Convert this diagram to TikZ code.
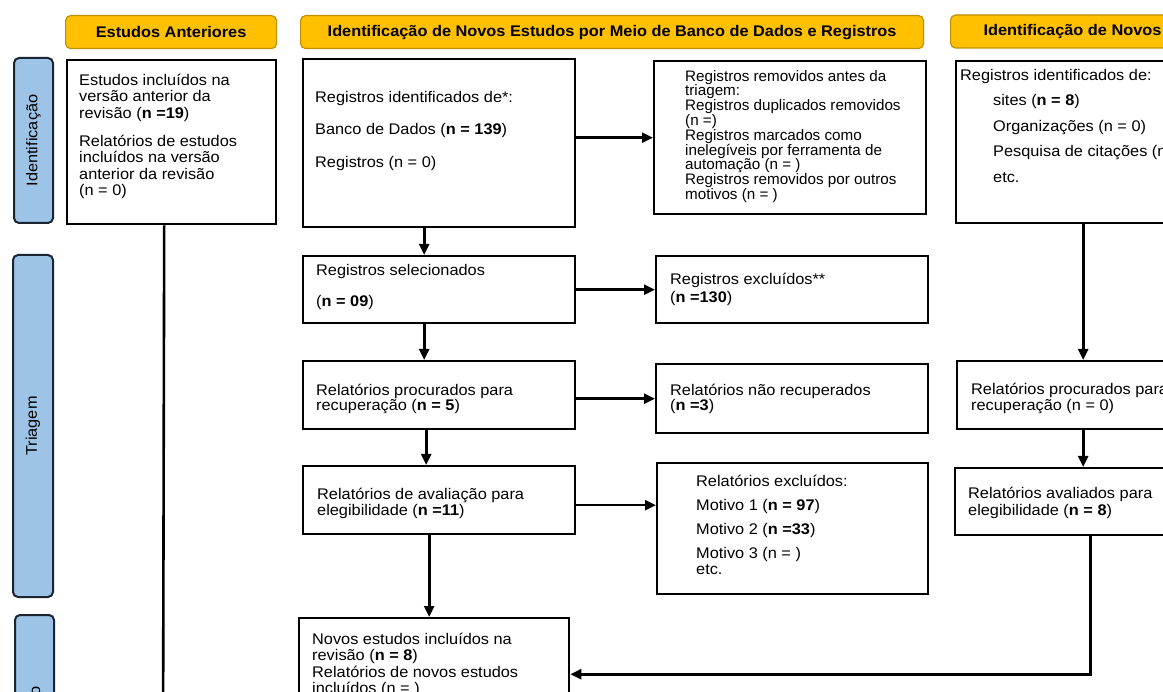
\documentclass[tikz,border=0pt]{standalone}
\usepackage{fontspec}
\setmainfont{Liberation Sans}[FakeStretch=1.06]
\newfontfamily\tightfont{Liberation Sans}
\usetikzlibrary{arrows.meta}
\definecolor{hdrfill}{HTML}{FFC000}
\definecolor{hdrline}{HTML}{C09000}
\definecolor{sidefill}{HTML}{9DC3E6}
\definecolor{sideline}{HTML}{1B2433}
\newcommand{\myfs}[1]{\fontsize{15.4}{#1}\selectfont}
\newcommand{\fl}{\rule{0pt}{13pt}}
\begin{document}
\begin{tikzpicture}[x=1pt,y=-1pt,
  box/.style={draw=black, line width=2.4pt, fill=white, anchor=north west, inner sep=0pt},
  txt/.style={anchor=north west, inner sep=0pt, align=left},
  arr/.style={line width=2.6pt, -{Triangle[length=11pt,width=10pt]}},
  ln/.style={line width=2.6pt},
  hdr/.style={draw=hdrline, line width=1.2pt, fill=hdrfill, rounded corners=5pt, font=\bfseries\myfs{15}, inner sep=0pt, minimum height=33pt},
  side/.style={draw=sideline, line width=2pt, fill=sidefill, rounded corners=5pt, anchor=north west, inner sep=0pt},
  sidetxt/.style={rotate=90, font=\myfs{15}, inner sep=0pt}]
\useasboundingbox (0,0) rectangle (1163,692);
\fill[white] (0,0) rectangle (1163,692);
\clip (0,0) rectangle (1163,692);

% headers
\node[hdr, anchor=north west, minimum width=211pt] (h1) at (65,15) {Estudos Anteriores};
\node[hdr, anchor=north west, minimum width=623pt] (h2) at (300,15) {Identificação de Novos Estudos por Meio de Banco de Dados e Registros};
\node[hdr, anchor=west, inner xsep=33pt] (h3) at (950,31.5) {Identificação de Novos Estudos por Outros Métodos};

% side labels
\node[side, minimum width=39pt, minimum height=165pt] (s1) at (13,57) {};
\node[sidetxt] (s1t) at (s1.center) {Identificação};
\node[side, minimum width=40pt, minimum height=342pt] (s2) at (12,254) {};
\node[sidetxt] (s2t) at (s2.center) {Triagem};
\node[side, minimum width=39pt, minimum height=203pt] (s3) at (14,614) {};
\node[sidetxt] (s3t) at (s3.center) {Inclusão};

% boxes
\node[box, minimum width=209pt, minimum height=164pt] (prev) at (66,59) {};
\node[box, minimum width=272pt, minimum height=168pt] (iddb) at (302,58) {};
\node[box, minimum width=272pt, minimum height=153pt] (remv) at (653,60) {};
\node[box, minimum width=272pt, minimum height=67pt] (sel) at (302,255) {};
\node[box, minimum width=272pt, minimum height=67pt] (excl) at (655,255) {};
\node[box, minimum width=272pt, minimum height=68pt] (proc) at (302,360) {};
\node[box, minimum width=272pt, minimum height=69pt] (nrec) at (655,363) {};
\node[box, minimum width=272pt, minimum height=68pt] (aval) at (302,465) {};
\node[box, minimum width=271pt, minimum height=131pt] (exrep) at (656,462) {};
\node[box, minimum width=270pt, minimum height=143pt] (novos) at (298,617) {};
\node[box, minimum width=254pt, minimum height=162pt] (idot) at (955,60) {};
\node[box, minimum width=252pt, minimum height=68pt] (proco) at (956,360) {};
\node[box, minimum width=256pt, minimum height=67pt] (avalo) at (954,467) {};

% texts
\node[txt, font=\myfs{16.5}] (prevt) at (79,72) {\fl Estudos incluídos na\\versão anterior da\\revisão ({\bfseries n =19})\\[11.5pt]Relatórios de estudos\\incluídos na versão\\anterior da revisão\\(n = 0)};
\node[txt, font=\myfs{16.5}] (iddbt) at (315,89) {\fl Registros identificados de*:\\[16pt]Banco de Dados ({\bfseries n = 139})\\[16pt]Registros (n = 0)};
\node[txt, font=\tightfont\fontsize{15.2}{14.8}\selectfont] (remvt) at (685,68) {\fl Registros removidos antes da\\triagem:\\Registros duplicados removidos\\(n =)\\Registros marcados como\\inelegíveis por ferramenta de\\automação (n = )\\Registros removidos por outros\\motivos (n = )};
\node[txt, font=\myfs{16.5}] (selt) at (316,262) {\fl Registros selecionados\\[14.5pt]({\bfseries n = 09})};
\node[txt, font=\myfs{18}] (exclt) at (670,271) {\fl Registros excluídos**\\({\bfseries n =130})};
\node[txt, font=\myfs{15}] (proct) at (316,382) {\fl Relatórios procurados para\\recuperação ({\bfseries n = 5})};
\node[txt, font=\myfs{15}] (nrect) at (670,382) {\fl Relatórios não recuperados\\({\bfseries n =3})};
\node[txt, font=\myfs{16}] (avalt) at (317,486) {\fl Relatórios de avaliação para\\elegibilidade ({\bfseries n =11})};
\node[txt, font=\myfs{16}] (exrept) at (696,473) {\fl Relatórios excluídos:\\[8pt]Motivo 1 ({\bfseries n = 97})\\[8pt]Motivo 2 ({\bfseries n =33})\\[8pt]Motivo 3 (n = )\\etc.};
\node[txt, font=\myfs{16.5}] (novost) at (312,631) {\fl Novos estudos incluídos na\\revisão ({\bfseries n = 8})\\Relatórios de novos estudos\\incluídos (n = )};
\node[txt, font=\myfs{16}] (idott) at (960,67) {\fl Registros identificados de:\\[9.5pt]\hspace*{33pt}sites ({\bfseries n = 8})\\[9.5pt]\hspace*{33pt}Organizações (n = 0)\\[9.5pt]\hspace*{33pt}Pesquisa de citações (n = 0)\\[9.5pt]\hspace*{33pt}etc.};
\node[txt, font=\myfs{16}] (procot) at (971,381) {\fl Relatórios procurados para\\recuperação (n = 0)};
\node[txt, font=\myfs{17}] (avalot) at (968,485) {\fl Relatórios avaliados para\\elegibilidade ({\bfseries n = 8})};

% connectors
\coordinate (prevend) at (163,760);
\draw[ln] ([xshift=-7.5pt]prev.south) -- (prevend);
\draw[arr] (iddb.east |- remv.west) -- (remv.west);
\draw[arr] (sel.east) -- (excl.west);
\draw[arr] (proc.east |- nrec.west) -- (nrec.west);
\draw[arr] ([yshift=-5pt]aval.east) -- ([yshift=-5pt]aval.east -| exrep.west);
\draw[arr] ([xshift=-15pt]iddb.south) -- ([xshift=-15pt]sel.north);
\draw[arr] ([xshift=-15pt]sel.south) -- ([xshift=-15pt]proc.north);
\draw[arr] ([xshift=-13pt]proc.south) -- ([xshift=-13pt]aval.north);
\draw[arr] ([xshift=-10pt]aval.south) -- ([xshift=-10pt]aval.south |- novos.north);
\draw[arr] (idot.south) -- (proco.north);
\draw[arr] (proco.south) -- (avalo.north);
\draw[arr] ([xshift=7pt]avalo.south) |- ([yshift=15.5pt]novos.east);
\end{tikzpicture}
\end{document}
